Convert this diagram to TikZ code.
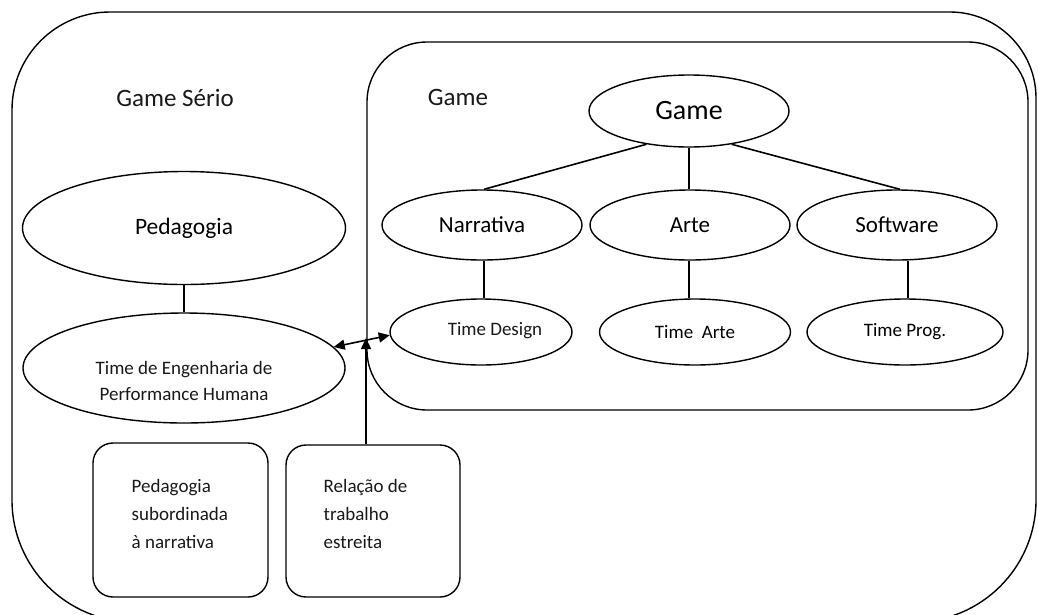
\documentclass[tikz,border=0pt]{standalone}
\usepackage{fontspec}
\setmainfont{Carlito}
\usetikzlibrary{shapes.geometric,arrows.meta}
\begin{document}
\begin{tikzpicture}[x=1pt,y=-1pt,
  line width=1.4pt,
  ell/.style={draw,ellipse,inner sep=0pt},
  lbl/.style={inner sep=0pt,text=black!90},
  rbox/.style={draw,rounded corners=20pt,inner sep=0pt},
  conn/.style={line width=1.6pt},
  tip/.style={-{Triangle[length=11pt,width=10pt]}}
]
\useasboundingbox (0,0) rectangle (1038,614);
% outer frame
\draw (12,110) arc[start angle=180,end angle=270,radius=98] -- (950,12)
  arc[start angle=270,end angle=360,radius=86] -- (1036,500)
  arc[start angle=0,end angle=90,radius=122] -- (134,622)
  arc[start angle=90,end angle=180,radius=122] -- cycle;
% inner frame
\node[draw,rounded corners=60pt,minimum width=661pt,minimum height=368pt,inner sep=0pt] (gbox) at (697.5,226) {};
\node[lbl,font=\fontsize{25}{30}\selectfont] (gserio) at (175,98) {Game Sério};
\node[lbl,font=\fontsize{25}{30}\selectfont] (glbl) at (458,97) {Game};
% game tree
\node[ell,minimum width=200pt,minimum height=72pt,font=\fontsize{28}{32}\selectfont] (game) at (689,111) {Game};
\node[ell,minimum width=200pt,minimum height=70pt,font=\fontsize{23}{28}\selectfont] (narr) at (482,225) {Narrativa};
\node[ell,minimum width=200pt,minimum height=70pt,font=\fontsize{23}{28}\selectfont] (arte) at (690,225) {Arte};
\node[ell,minimum width=200pt,minimum height=70pt,font=\fontsize{23}{28}\selectfont] (soft) at (897,225) {Software};
\node[ell,minimum width=182pt,minimum height=66pt] (tdes) at (481,332) {};
\node[lbl,font=\fontsize{19}{23}\selectfont] (tdesl) at (495,331) {Time Design};
\node[ell,minimum width=191pt,minimum height=66pt,font=\fontsize{19}{23}\selectfont] (tarte) at (695,332) {Time\ \ Arte};
\node[ell,minimum width=196pt,minimum height=66pt,font=\fontsize{19}{23}\selectfont] (tprog) at (905,332) {Time Prog.};
\draw[conn] (game.218) -- (narr.north -| 484,0);
\draw[conn] (game.south) -- (arte.north -| game.south);
\draw[conn] (game.-38) -- (soft.north -| 900,0);
\draw[conn] (narr.south -| 484,0) -- (tdes.north -| 484,0);
\draw[conn] (arte.south -| 689,0) -- (tarte.north -| 689,0);
\draw[conn] (soft.south -| 908,0) -- (tprog.north -| 908,0);
% left side
\node[ell,minimum width=323pt,minimum height=113pt,font=\fontsize{23.5}{28}\selectfont] (ped) at (184,228) {Pedagogia};
\node[ell,minimum width=322pt,minimum height=110pt] (teng) at (184,368) {};
\node[lbl,align=center,font=\fontsize{19}{26}\selectfont] (tengl) at (184,381) {Time de Engenharia de\\Performance Humana};
\draw[conn] (ped.south) -- (teng.north);
% boxes
\node[rbox,minimum width=175pt,minimum height=154pt] (box1) at (180.5,520) {};
\node[rbox,minimum width=174pt,minimum height=152pt] (box2) at (373,521) {};
\node[lbl,align=left,anchor=north west,font=\fontsize{19}{28}\selectfont] (b1t) at (131,479) {Pedagogia\\subordinada\\à narrativa};
\node[lbl,align=left,anchor=north west,font=\fontsize{19}{28}\selectfont] (b2t) at (323,479) {Relação de\\trabalho\\estreita};
% arrows
\draw[conn,{Triangle[length=11pt,width=10pt]}-{Triangle[length=11pt,width=10pt]}] (teng.8) -- (tdes.182);
\coordinate (vtip) at (366,338);
\draw[conn,tip] (vtip |- box2.north) -- (vtip);
\end{tikzpicture}
\end{document}
